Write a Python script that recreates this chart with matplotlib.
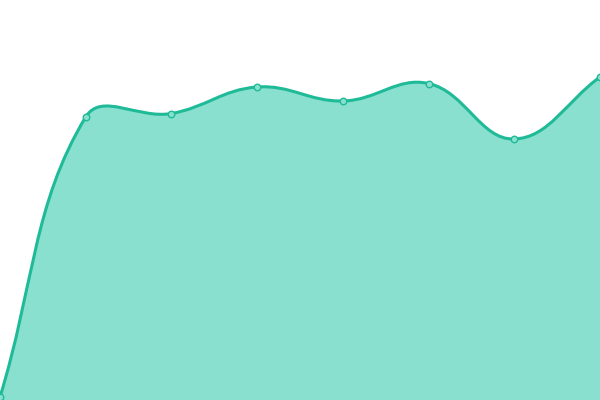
import numpy as np
import matplotlib
matplotlib.use("Agg")
import matplotlib.pyplot as plt
from matplotlib.path import Path
from matplotlib.patches import PathPatch

labels = ["1", "2", "3", "4", "5", "6", "7", "8"]
values = [3, 283, 286.5, 313, 299, 316.5, 261, 323]

LINE = "#1fba98"
FILL = "#89e0cf"
TENSION = 0.4

fig = plt.figure(figsize=(6, 4), dpi=100)
ax = fig.add_axes([0, 0, 1, 1])
ax.set_xlim(0, len(values) - 1)
ax.set_ylim(0, 400)
ax.axis("off")

xs = np.arange(len(values), dtype=float)
pts = ax.transData.transform(np.column_stack([xs, values]))

# Chart.js-style spline control points (computed in pixel space)
n = len(pts)
cps_prev = []
cps_next = []
for i in range(n):
    cur = pts[i]
    prv = pts[i - 1] if i > 0 else cur
    nxt = pts[i + 1] if i < n - 1 else cur
    d01 = np.hypot(*(cur - prv))
    d12 = np.hypot(*(nxt - cur))
    tot = d01 + d12
    s01 = d01 / tot if tot else 0
    s12 = d12 / tot if tot else 0
    fa = TENSION * s01
    fb = TENSION * s12
    cps_prev.append(cur - fa * (nxt - prv))
    cps_next.append(cur + fb * (nxt - prv))

verts = [pts[0]]
codes = [Path.MOVETO]
for i in range(n - 1):
    verts += [cps_next[i], cps_prev[i + 1], pts[i + 1]]
    codes += [Path.CURVE4] * 3

inv = ax.transData.inverted()
verts_d = inv.transform(np.array(verts))

line_path = Path(verts_d, codes)
base = ax.get_ylim()[0]
fill_verts = list(verts_d) + [[xs[-1], base], [xs[0], base], verts_d[0]]
fill_codes = codes + [Path.LINETO, Path.LINETO, Path.CLOSEPOLY]
ax.add_patch(PathPatch(Path(fill_verts, fill_codes), facecolor=FILL, edgecolor="none"))
ax.add_patch(PathPatch(line_path, facecolor="none", edgecolor=LINE, linewidth=2.2))

ax.scatter(xs, values, s=22, facecolor=FILL, edgecolor=LINE, linewidth=1, zorder=5, clip_on=False)

fig.savefig("out.png", dpi=100)
